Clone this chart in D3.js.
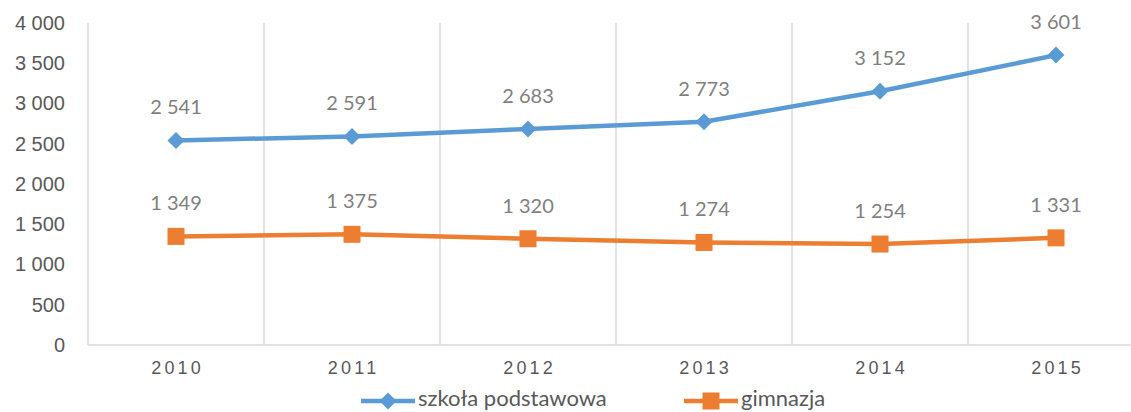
<!DOCTYPE html>
<html>
<head>
<meta charset="utf-8">
<script src="https://cdn.jsdelivr.net/npm/d3@7"></script>
<style>
  body { margin: 0; background: #fff; overflow: hidden; }
  svg { font-family: Lato, "Open Sans", sans-serif; }
  .tick text { fill: #595959; }
</style>
</head>
<body>
<div id="chart"></div>
<script>
// data
var years = ["2010", "2011", "2012", "2013", "2014", "2015"];
var szkola = [2541, 2591, 2683, 2773, 3152, 3601];
var gimnazjum = [1349, 1375, 1320, 1274, 1254, 1331];
var yTicks = [0, 500, 1000, 1500, 2000, 2500, 3000, 3500, 4000];
var seriesNames = ["szkoła podstawowa", "gimnazja"];

var W = 1131, H = 412;
var margin = {left: 88, top: 23, right: -13, bottom: 67};
var width = W - margin.left - margin.right;   // plot runs past the right edge
var height = H - margin.top - margin.bottom;

var svg = d3.select("#chart").append("svg")
  .attr("width", W)
  .attr("height", H);

var g = svg.append("g").attr("transform", "translate(" + margin.left + "," + margin.top + ")");

var x = d3.scaleBand().domain(years).range([0, width]);
var y = d3.scaleLinear().domain([0, 4000]).range([height, 0]);

// format with space as thousands separator
var fmt = d3.formatLocale({decimal: ",", thousands: "\u00a0", grouping: [3], currency: ["", ""]}).format(",");

// vertical gridlines at the category boundaries
var bounds = years.map(function(d) { return x(d); }).concat([width]);
g.selectAll(".vgrid")
  .data(bounds)
  .enter().append("line")
  .attr("class", "vgrid")
  .attr("x1", function(d) { return d; })
  .attr("x2", function(d) { return d; })
  .attr("y1", 0)
  .attr("y2", height)
  .attr("stroke", "#d9d9d9")
  .attr("stroke-width", 1.5);

// x axis line
g.append("line")
  .attr("x1", 0).attr("x2", width)
  .attr("y1", height).attr("y2", height)
  .attr("stroke", "#d9d9d9")
  .attr("stroke-width", 1.5);

// y axis labels
var yAxis = d3.axisLeft(y).tickValues(yTicks).tickSize(0).tickPadding(23).tickFormat(fmt);
g.append("g")
  .call(yAxis)
  .call(function(a) { a.select(".domain").remove(); })
  .selectAll("text")
  .style("font-size", "20px");

// x axis labels
var xAxis = d3.axisBottom(x).tickSize(0).tickPadding(16);
g.append("g")
  .attr("transform", "translate(0," + height + ")")
  .call(xAxis)
  .call(function(a) { a.select(".domain").remove(); })
  .selectAll("text")
  .style("font-size", "18px")
  .style("letter-spacing", "3.2px")
  .attr("dx", "1.6px");

var line = d3.line()
  .x(function(d, i) { return x(years[i]) + x.bandwidth() / 2; })
  .y(function(d) { return y(d); });

var series = [
  {name: seriesNames[0], values: szkola, color: "#5b9bd5", marker: "diamond"},
  {name: seriesNames[1], values: gimnazjum, color: "#ed7d31", marker: "square"}
];

function drawMarker(sel, type, color) {
  if (type == "diamond") {
    sel.append("path")
      .attr("d", "M0,-8.5L8.5,0L0,8.5L-8.5,0Z")
      .attr("fill", color);
  } else {
    sel.append("rect")
      .attr("x", -8.5).attr("y", -8.5)
      .attr("width", 17).attr("height", 17)
      .attr("fill", color);
  }
}

series.forEach(function(s) {
  g.append("path")
    .datum(s.values)
    .attr("fill", "none")
    .attr("stroke", s.color)
    .attr("stroke-width", 4.5)
    .attr("stroke-linejoin", "round")
    .attr("d", line);

  g.selectAll(".m-" + s.marker)
    .data(s.values)
    .enter().append("g")
    .attr("class", "m-" + s.marker)
    .attr("transform", function(d, i) {
      return "translate(" + (x(years[i]) + x.bandwidth() / 2) + "," + y(d) + ")";
    })
    .each(function() { drawMarker(d3.select(this), s.marker, s.color); });

  g.selectAll(".lbl-" + s.marker)
    .data(s.values)
    .enter().append("text")
    .attr("class", "lbl-" + s.marker)
    .attr("x", function(d, i) { return x(years[i]) + x.bandwidth() / 2; })
    .attr("y", function(d) { return y(d) - 26; })
    .attr("text-anchor", "middle")
    .style("font-size", "20px")
    .attr("fill", "#7f7f7f")
    .text(function(d) { return fmt(d); });
});

// legend (kept just inside the bottom edge)
var legendX = [361, 684];
var legend = svg.selectAll(".legend")
  .data(series)
  .enter().append("g")
  .attr("class", "legend")
  .attr("transform", function(d, i) { return "translate(" + legendX[i] + ",401)"; });

legend.append("line")
  .attr("x1", 0).attr("x2", 54)
  .attr("stroke", function(d) { return d.color; })
  .attr("stroke-width", 4.5);

legend.each(function(d) {
  var m = d3.select(this).append("g").attr("transform", "translate(27,0)");
  drawMarker(m, d.marker, d.color);
});

legend.append("text")
  .attr("x", 57)
  .attr("y", 5)
  .style("font-size", "22px")
  .attr("fill", "#595959")
  .text(function(d) { return d.name; });
</script>
</body>
</html>
